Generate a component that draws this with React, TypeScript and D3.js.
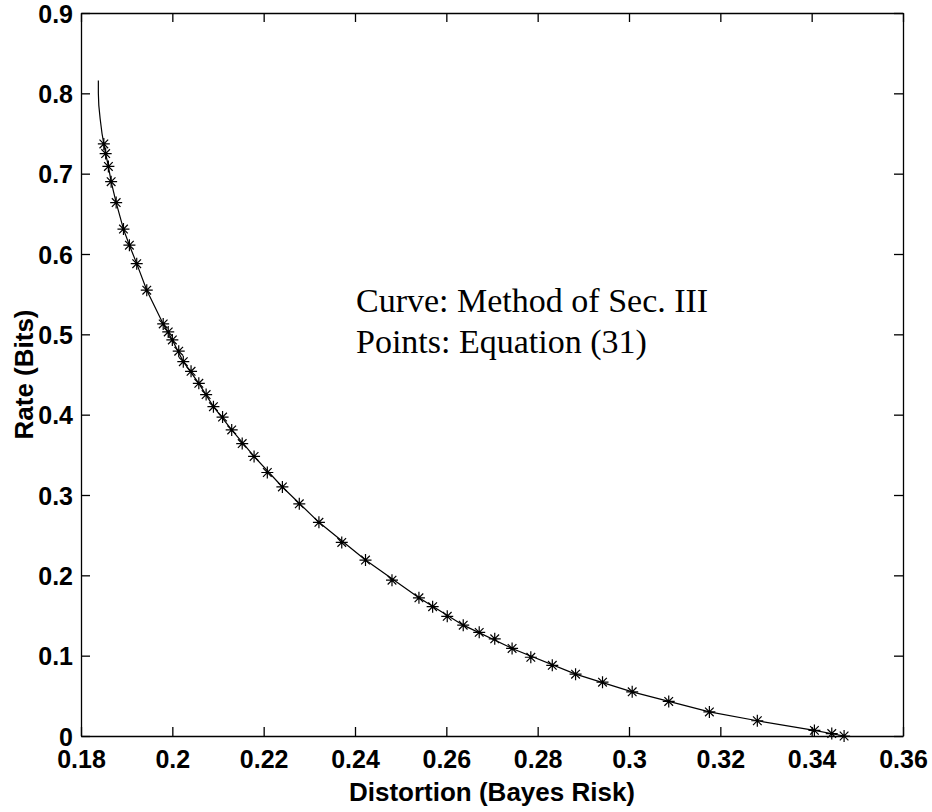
import React, { useEffect, useRef } from 'react';
import * as d3 from 'd3';

// tick values
const xTicks = [0.18, 0.2, 0.22, 0.24, 0.26, 0.28, 0.3, 0.32, 0.34, 0.36];
const yTicks = [0, 0.1, 0.2, 0.3, 0.4, 0.5, 0.6, 0.7, 0.8, 0.9];

// points: Equation (31)
const pointDistortion = [
  0.1850, 0.1854, 0.1860, 0.1866, 0.1877, 0.1893, 0.1906, 0.1922, 0.1944, 0.1980,
  0.1991, 0.2000, 0.2014, 0.2024, 0.2041, 0.2058, 0.2074, 0.2090, 0.2110, 0.2130,
  0.2153, 0.2179, 0.2208, 0.2241, 0.2278, 0.2321, 0.2371, 0.2423, 0.2481, 0.2540,
  0.2570, 0.2602, 0.2637, 0.2672, 0.2706, 0.2744, 0.2785, 0.2832, 0.2883, 0.2942,
  0.3007, 0.3087, 0.3176, 0.3281, 0.3406, 0.3444, 0.3471,
];
const pointRate = [
  0.737, 0.725, 0.709, 0.690, 0.664, 0.631, 0.611, 0.588, 0.555, 0.513,
  0.503, 0.493, 0.479, 0.466, 0.454, 0.439, 0.425, 0.410, 0.397, 0.381,
  0.364, 0.348, 0.328, 0.310, 0.289, 0.266, 0.241, 0.219, 0.194, 0.172,
  0.161, 0.149, 0.138, 0.129, 0.121, 0.109, 0.098, 0.088, 0.077, 0.067,
  0.055, 0.043, 0.030, 0.019, 0.007, 0.003, 0.0,
];

// curve: Method of Sec. III
const curveDistortion = [
  0.1838, 0.1838, 0.1839, 0.1842, 0.1846, 0.1850, 0.1854, 0.1860, 0.1866, 0.1877,
  0.1893, 0.1906, 0.1922, 0.1944, 0.1980, 0.2000, 0.2024, 0.2058, 0.2090, 0.2130,
  0.2179, 0.2241, 0.2321, 0.2423, 0.2540, 0.2637, 0.2744, 0.2883, 0.3007, 0.3176,
  0.3281, 0.3406, 0.3471,
];
const curveRate = [
  0.816, 0.800, 0.785, 0.768, 0.750, 0.737, 0.725, 0.709, 0.690, 0.664,
  0.631, 0.611, 0.588, 0.555, 0.513, 0.493, 0.466, 0.439, 0.410, 0.381,
  0.348, 0.310, 0.266, 0.219, 0.172, 0.138, 0.109, 0.077, 0.055, 0.030,
  0.019, 0.007, 0.0,
];

const annotation = ['Curve: Method of Sec. III', 'Points: Equation (31)'];

const App = () => {
  const ref = useRef<SVGSVGElement>(null);

  useEffect(() => {
    const width = 932;
    const height = 812;
    const margin = { top: 13, right: 29, bottom: 76, left: 81 };
    const w = width - margin.left - margin.right;
    const h = height - margin.top - margin.bottom;
    const sans = '"Liberation Sans", Arial, sans-serif';
    const serif = '"Liberation Serif", "Times New Roman", serif';

    const svg = d3.select(ref.current);
    svg.selectAll('*').remove();

    const x = d3.scaleLinear().domain([0.18, 0.36]).range([0, w]);
    const y = d3.scaleLinear().domain([0, 0.9]).range([h, 0]);

    const g = svg.append('g').attr('transform', `translate(${margin.left},${margin.top})`);

    // box and inward ticks on all four sides
    const tick = 9;
    const xAxisB = d3.axisBottom(x).tickValues(xTicks).tickSizeInner(-tick).tickSizeOuter(0).tickPadding(14)
      .tickFormat((d) => d3.format('')(+d));
    const xAxisT = d3.axisTop(x).tickValues(xTicks).tickSizeInner(-tick).tickSizeOuter(0).tickFormat(() => '');
    const yAxisL = d3.axisLeft(y).tickValues(yTicks).tickSizeInner(-tick).tickSizeOuter(0).tickPadding(8)
      .tickFormat((d) => d3.format('')(+d));
    const yAxisR = d3.axisRight(y).tickValues(yTicks).tickSizeInner(-tick).tickSizeOuter(0).tickFormat(() => '');

    const axes = [
      g.append('g').attr('transform', `translate(0,${h})`).call(xAxisB),
      g.append('g').call(xAxisT),
      g.append('g').call(yAxisL),
      g.append('g').attr('transform', `translate(${w},0)`).call(yAxisR),
    ];
    axes.forEach((a) => {
      a.selectAll('path.domain').attr('stroke', '#000').attr('stroke-width', 1.3);
      a.selectAll('line').attr('stroke', '#000').attr('stroke-width', 1.3);
      a.selectAll('text')
        .attr('fill', '#000')
        .attr('font-family', sans)
        .attr('font-weight', 'bold')
        .attr('font-size', 25);
    });
    axes[0].selectAll('text').attr('dy', '0.71em');
    axes[2].selectAll('text').attr('dy', '0.36em');

    // curve
    const line = d3.line<number>()
      .x((d, i) => x(curveDistortion[i]))
      .y((d) => y(d));
    g.append('path')
      .attr('d', line(curveRate))
      .attr('fill', 'none')
      .attr('stroke', '#000')
      .attr('stroke-width', 1.2);

    // asterisk markers
    const r = 6;
    const rd = r * 0.72;
    const star = `M${-r},0L${r},0M0,${-r}L0,${r}M${-rd},${-rd}L${rd},${rd}M${-rd},${rd}L${rd},${-rd}`;
    g.selectAll('path.pt')
      .data(pointRate)
      .enter()
      .append('path')
      .attr('class', 'pt')
      .attr('transform', (d, i) => `translate(${x(pointDistortion[i])},${y(d)})`)
      .attr('d', star)
      .attr('fill', 'none')
      .attr('stroke', '#000')
      .attr('stroke-width', 1.2);

    // annotation
    g.selectAll('text.note')
      .data(annotation)
      .enter()
      .append('text')
      .attr('class', 'note')
      .attr('x', 356 - margin.left)
      .attr('y', (d, i) => 312 - margin.top + i * 41)
      .attr('font-family', serif)
      .attr('font-size', 34)
      .attr('fill', '#000')
      .text((d) => d);

    // axis titles
    svg.append('text')
      .attr('x', margin.left + w / 2)
      .attr('y', 801)
      .attr('text-anchor', 'middle')
      .attr('font-family', sans)
      .attr('font-weight', 'bold')
      .attr('font-size', 26)
      .attr('fill', '#000')
      .text('Distortion (Bayes Risk)');

    svg.append('text')
      .attr('transform', `translate(33,${margin.top + h / 2}) rotate(-90)`)
      .attr('text-anchor', 'middle')
      .attr('font-family', sans)
      .attr('font-weight', 'bold')
      .attr('font-size', 26)
      .attr('fill', '#000')
      .text('Rate (Bits)');
  }, []);

  return (
    <svg
      ref={ref}
      width={932}
      height={812}
      style={{ position: 'absolute', left: 0, top: 0, background: '#fff' }}
    />
  );
};

export default App;
